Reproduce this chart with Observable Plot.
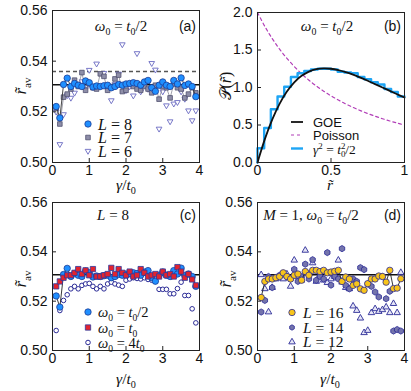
<!DOCTYPE html>
<html><head><meta charset="utf-8">
<script src="https://cdn.jsdelivr.net/npm/d3@7"></script>
<script src="https://cdn.jsdelivr.net/npm/@observablehq/plot@0.6"></script>
<style>
body{margin:0;background:#fff}
#wrap{position:relative;width:411px;height:391px;overflow:hidden;background:#fff}
#wrap svg{position:absolute;overflow:visible}
</style></head><body><div id="wrap"></div>
<script>
// ---------- data ----------
const gamma = [0.1,0.2,0.3,0.4,0.5,0.6,0.7,0.8,0.9,1.0,1.1,1.2,1.3,1.4,1.5,1.6,1.7,1.8,1.9,2.0,2.1,2.2,2.3,2.4,2.5,2.6,2.7,2.8,2.9,3.0,3.1,3.2,3.3,3.4,3.5,3.6,3.7,3.8,3.9];
const gammaTicks = [0,1,2,3,4];
const ravTicks = [0.50,0.52,0.54,0.56];
const goeRav = [0.5307];
const goeRavDashed = [0.5359];

// panel (a)
const aL8 = [0.5221,0.5176,0.5308,0.5333,0.5300,0.5312,0.5305,0.5300,0.5322,0.5315,0.5298,0.5302,0.5300,0.5303,0.5305,0.5295,0.5300,0.5308,0.5305,0.5310,0.5312,0.5315,0.5312,0.5305,0.5318,0.5324,0.5295,0.5281,0.5305,0.5318,0.5305,0.5300,0.5324,0.5310,0.5334,0.5304,0.5310,0.5300,0.5260];
const aL7 = [0.5215,0.5152,0.5258,0.5270,0.5290,0.5325,0.5300,0.5355,0.5285,0.5310,0.5295,0.5290,0.5350,0.5340,0.5285,0.5300,0.5330,0.5345,0.5280,0.5285,0.5310,0.5300,0.5290,0.5285,0.5300,0.5290,0.5275,0.5305,0.5250,0.5300,0.5295,0.5255,0.5310,0.5295,0.5290,0.5255,0.5270,0.5295,0.5275];
const aL6 = [0.5200,0.5072,0.5190,0.5265,0.5255,0.5275,0.5310,0.5320,0.5290,0.5365,0.5300,0.5390,0.5300,0.5353,0.5290,0.5245,0.5310,0.5350,0.5466,0.5285,0.5300,0.5264,0.5431,0.5280,0.5305,0.5290,0.5392,0.5366,0.5133,0.5280,0.5225,0.5162,0.5232,0.5238,0.5280,0.5251,0.5205,0.5166,0.5205];

// panel (b)
const rGrid = [0,0.05,0.1,0.15,0.2,0.25,0.3,0.35,0.4,0.45,0.5,0.55,0.6,0.65,0.7,0.75,0.8,0.85,0.9,0.95,1];
const goeP = [0,0.312,0.572,0.782,0.946,1.069,1.156,1.212,1.244,1.255,1.250,1.232,1.205,1.171,1.132,1.090,1.045,1.000,0.955,0.910,0.866];
const poissonP = [2.000,1.814,1.653,1.512,1.389,1.280,1.183,1.097,1.020,0.951,0.889,0.833,0.781,0.735,0.692,0.653,0.617,0.584,0.554,0.526,0.500];
const histEdges = [0,0.0455,0.0909,0.1364,0.1818,0.2273,0.2727,0.3182,0.3636,0.4091,0.4545,0.5,0.5455,0.5909,0.6364,0.6818,0.7273,0.7727,0.8182,0.8636,0.9091,0.9545,1];
const histVals = [0.19,0.46,0.71,0.88,1.01,1.14,1.19,1.22,1.24,1.25,1.25,1.24,1.21,1.20,1.19,1.14,1.11,1.07,1.04,0.98,0.94,0.88];
const rTicks = [0,0.5,1];
const pTicks = [0,0.5,1,1.5,2];

// panel (c)
const cHalf = aL8;
const cOne = [0.5260,0.5280,0.5295,0.5305,0.5305,0.5315,0.5330,0.5310,0.5325,0.5305,0.5330,0.5300,0.5300,0.5305,0.5310,0.5335,0.5310,0.5330,0.5315,0.5305,0.5320,0.5300,0.5305,0.5330,0.5315,0.5300,0.5305,0.5310,0.5300,0.5320,0.5305,0.5310,0.5300,0.5338,0.5320,0.5295,0.5310,0.5288,0.5264];
const cFour = [0.5081,0.5162,0.5203,0.5226,0.5250,0.5260,0.5250,0.5264,0.5270,0.5272,0.5260,0.5250,0.5260,0.5250,0.5270,0.5277,0.5270,0.5265,0.5260,0.5285,0.5290,0.5295,0.5292,0.5290,0.5295,0.5288,0.5285,0.5280,0.5248,0.5248,0.5248,0.5230,0.5230,0.5251,0.5277,0.5223,0.5223,0.5169,0.5112];

// panel (d)
const dL16 = [0.5215,0.5280,0.5290,0.5290,0.5295,0.5300,0.5315,0.5300,0.5290,0.5305,0.5310,0.5285,0.5320,0.5305,0.5325,0.5325,0.5320,0.5325,0.5315,0.5318,0.5321,0.5325,0.5280,0.5298,0.5290,0.5264,0.5270,0.5250,0.5244,0.5271,0.5290,0.5290,0.5302,0.5300,0.5277,0.5325,0.5251,0.5253,0.5291];
const dL14 = [0.5156,0.5203,0.5300,0.5255,0.5295,0.5305,0.5310,0.5300,0.5290,0.5329,0.5280,0.5300,0.5350,0.5290,0.5368,0.5285,0.5300,0.5290,0.5397,0.5265,0.5300,0.5290,0.5413,0.5264,0.5250,0.5290,0.5280,0.5336,0.5328,0.5270,0.5260,0.5237,0.5217,0.5300,0.5210,0.5240,0.5079,0.5085,0.5079];
const dL12 = [0.5307,0.5250,0.5156,0.5255,0.5290,0.5300,0.5290,0.5310,0.5260,0.5366,0.5300,0.5285,0.5406,0.5310,0.5355,0.5280,0.5305,0.5285,0.5275,0.5290,0.5300,0.5366,0.5277,0.5255,0.5250,0.5180,0.5162,0.5131,0.5072,0.5081,0.5153,0.5169,0.5158,0.5165,0.5176,0.5153,0.5190,0.5153,0.5316];

// ---------- helpers ----------
const SANS = "'Liberation Sans', Arial, Helvetica, sans-serif";
const SERIF = "'Liberation Serif', 'Times New Roman', serif";
const tbl = (xs, ys) => xs.map((x, i) => ({x, y: ys[i]}));
const wrap = document.getElementById("wrap");

function panel({left, top, w, h, ml, mr, mt, mb, xDomain, yDomain, xTicks, yTicks, xFmt, yFmt, marks}) {
  const fw = w - ml - mr, fh = h - mt - mb;
  const svg = Plot.plot({
    width: w, height: h, marginLeft: ml, marginRight: mr, marginTop: mt, marginBottom: mb,
    x: {domain: xDomain}, y: {domain: yDomain},
    style: {fontFamily: SANS, fontSize: "14px", color: "#111", background: "transparent"},
    marks: [
      ...marks,
      Plot.frame({stroke: "#222", strokeWidth: 1}),
      Plot.tickX(xTicks, {x: d => d, insetTop: fh - 4, stroke: "#222"}),
      Plot.tickY(yTicks, {y: d => d, insetRight: fw - 4, stroke: "#222"}),
      Plot.axisX(xTicks, {tickSize: 0, tickPadding: 3, tickFormat: xFmt, label: null, fontSize: 14}),
      Plot.axisY(yTicks, {tickSize: 0, tickPadding: 5, tickFormat: yFmt, label: null, fontSize: 14})
    ]
  });
  svg.style.left = left + "px";
  svg.style.top = top + "px";
  wrap.append(svg);
  return svg;
}

function rich(svg, x, y, parts, o = {}) {
  const size = o.size || 15;
  const supK = o.supK || 0.4;
  const t = d3.select(svg).append("text")
    .attr("x", x).attr("y", y)
    .attr("font-family", o.family || SERIF)
    .attr("font-size", size)
    .attr("text-anchor", o.anchor || "start")
    .attr("fill", "#111")
    .style("white-space", "pre");
  if (o.rotate) t.attr("transform", `rotate(${o.rotate} ${x} ${y})`);
  let shift = 0;
  for (const p of parts) {
    const [s, st = "", dx = 0] = p;
    const ts = t.append("tspan").text(s);
    if (st.includes("i")) ts.attr("font-style", "italic");
    const target = st.includes("_") ? size * 0.28 : st.includes("^") ? -size * supK : 0;
    if (target !== shift) { ts.attr("dy", target - shift); shift = target; }
    if (target !== 0) ts.attr("font-size", size * 0.66);
    if (dx) ts.attr("dx", dx);
  }
  return t;
}

function marker(svg, x, y, kind, r, fill, stroke, sw, rot = 0) {
  let d;
  if (kind === "hexagon") {
    const pts = [0,1,2,3,4,5].map(k => [r * Math.cos(Math.PI/6 + k*Math.PI/3), r * Math.sin(Math.PI/6 + k*Math.PI/3)]);
    d = "M" + pts.map(p => p.join(",")).join("L") + "Z";
  } else {
    const sym = {circle: d3.symbolCircle, square: d3.symbolSquare, triangle: d3.symbolTriangle}[kind];
    d = d3.symbol(sym, Math.PI * r * r)();
  }
  d3.select(svg).append("path").attr("d", d)
    .attr("transform", `translate(${x},${y}) rotate(${rot})`)
    .attr("fill", fill).attr("stroke", stroke).attr("stroke-width", sw);
}

function legLine(svg, x1, x2, y, stroke, sw, dash) {
  const l = d3.select(svg).append("line").attr("x1", x1).attr("x2", x2).attr("y1", y).attr("y2", y)
    .attr("stroke", stroke).attr("stroke-width", sw);
  if (dash) l.attr("stroke-dasharray", dash);
}

const fmtG = d => String(d);
const fmtR = d3.format(".2f");
const omegaHalf = [["ω","i"],["0","_"],[" = "],["t","i"],["0","_"],["/2"]];
const yLabRav = [["r\u0303","i"],["av","_"]];
const xLabGamma = [["γ","i"],["/"],["t","i"],["0","_"]];

// colours
const C_BLUE = "#1f8fff", C_BLUE_E = "#1d3c96";
const C_GREY = "#8e8ea8", C_GREY_E = "#505070";
const C_TRI = "#6a6ac2";
const C_RED = "#e3242e", C_RED_E = "#2b3aa0";
const C_NAVY = "#2a2a96";
const C_YEL = "#f7c41a";
const C_HEX = "#7474ac";
const C_HIST = "#1ea5f5";
const C_POI = "#b23fb8";

// ---------- panel (a) ----------
const A = panel({
  left: 0, top: 0, w: 205, h: 195, ml: 52, mr: 6, mt: 10, mb: 33,
  xDomain: [0, 4], yDomain: [0.50, 0.56], xTicks: gammaTicks, yTicks: ravTicks, xFmt: fmtG, yFmt: fmtR,
  marks: [
    Plot.ruleY(goeRav, {y: d => d, stroke: "#111", strokeWidth: 1.6}),
    Plot.ruleY(goeRavDashed, {y: d => d, stroke: "#555", strokeWidth: 1.4, strokeDasharray: "4,3"}),
    Plot.dot(tbl(gamma, aL6), {x: "x", y: "y", symbol: "triangle", rotate: 180, r: 2.1, fill: "white", stroke: C_TRI, strokeWidth: 0.9}),
    Plot.line(tbl(gamma, aL7), {x: "x", y: "y", stroke: "#8a8a98", strokeWidth: 0.8}),
    Plot.dot(tbl(gamma, aL7), {x: "x", y: "y", symbol: "square", r: 2.6, fill: C_GREY, stroke: C_GREY_E, strokeWidth: 0.8}),
    Plot.line(tbl(gamma, aL8), {x: "x", y: "y", stroke: "#333", strokeWidth: 0.9}),
    Plot.dot(tbl(gamma, aL8), {x: "x", y: "y", r: 3.2, fill: C_BLUE, stroke: C_BLUE_E, strokeWidth: 0.8})
  ]
});
rich(A, 121, 31, omegaHalf, {anchor: "middle"});
rich(A, 196, 31, [["(a)"]], {family: SANS, size: 14, anchor: "end"});
rich(A, 26, 86, yLabRav, {size: 17, anchor: "middle", rotate: -90});
rich(A, 126, 190, xLabGamma, {size: 15.5, anchor: "middle"});
marker(A, 88, 124, "circle", 3.2, C_BLUE, C_BLUE_E, 0.8);
marker(A, 88, 137.5, "square", 2.6, C_GREY, C_GREY_E, 0.8);
marker(A, 88, 151, "triangle", 2.1, "white", C_TRI, 0.9, 180);
rich(A, 98, 129.5, [["L","i"],[" = 8"]], {size: 16});
rich(A, 98, 143, [["L","i"],[" = 7"]], {size: 16});
rich(A, 98, 156.5, [["L","i"],[" = 6"]], {size: 16});

// ---------- panel (b) ----------
const histTable = [{x: 0, y: 0}, ...tbl(histEdges.slice(0, -1), histVals), {x: histEdges[histEdges.length - 1], y: histVals[histVals.length - 1]}];
const B = panel({
  left: 205, top: 0, w: 206, h: 195, ml: 52, mr: 7, mt: 12, mb: 33,
  xDomain: [0, 1], yDomain: [0, 2], xTicks: rTicks, yTicks: pTicks, xFmt: fmtG, yFmt: d3.format(".1f"),
  marks: [
    Plot.line(tbl(rGrid, poissonP), {x: "x", y: "y", curve: "catmull-rom", stroke: C_POI, strokeWidth: 1.2, strokeDasharray: "3,3"}),
    Plot.line(histTable, {x: "x", y: "y", curve: "step-after", stroke: C_HIST, strokeWidth: 2.4}),
    Plot.line(tbl(rGrid, goeP), {x: "x", y: "y", curve: "catmull-rom", stroke: "#111", strokeWidth: 1.8})
  ]
});
rich(B, 122, 31, omegaHalf, {anchor: "middle"});
rich(B, 196, 31, [["(b)"]], {family: SANS, size: 14, anchor: "end"});
rich(B, 26, 86, [["𝒫("], ["r\u0303","i"], [")"]], {size: 16, anchor: "middle", rotate: -90});
rich(B, 125, 190, [["r\u0303","i"]], {size: 15.5, anchor: "middle"});
legLine(B, 86, 98, 122, "#111", 1.8);
legLine(B, 86, 98, 135, C_POI, 1.2, "3,3");
legLine(B, 86, 98, 148.5, C_HIST, 2.4);
rich(B, 108, 126.5, [["GOE"]], {family: SANS, size: 13});
rich(B, 108, 139.5, [["Poisson"]], {family: SANS, size: 13});
rich(B, 108, 153.5, [["γ","i"],["2","^"],[" = "],["t","i"],["2","^"],["0","_",-4.5],["/2"]], {size: 13.5, supK: 0.32});

// ---------- panel (c) ----------
const Cc = panel({
  left: 0, top: 195, w: 205, h: 196, ml: 52, mr: 6, mt: 7, mb: 41,
  xDomain: [0, 4], yDomain: [0.50, 0.56], xTicks: gammaTicks, yTicks: ravTicks, xFmt: fmtG, yFmt: fmtR,
  marks: [
    Plot.ruleY(goeRav, {y: d => d, stroke: "#111", strokeWidth: 1.6}),
    Plot.dot(tbl(gamma, cFour), {x: "x", y: "y", r: 2.3, fill: "white", stroke: C_NAVY, strokeWidth: 1}),
    Plot.line(tbl(gamma, cHalf), {x: "x", y: "y", stroke: "#222", strokeWidth: 0.9}),
    Plot.dot(tbl(gamma, cHalf), {x: "x", y: "y", r: 3.2, fill: C_BLUE, stroke: C_BLUE_E, strokeWidth: 0.8}),
    Plot.dot(tbl(gamma, cOne), {x: "x", y: "y", symbol: "square", r: 3.0, fill: C_RED, stroke: C_RED_E, strokeWidth: 0.8})
  ]
});
rich(Cc, 113, 25, [["L","i"],[" = 8"]], {anchor: "middle"});
rich(Cc, 196, 25, [["(c)"]], {family: SANS, size: 14, anchor: "end"});
rich(Cc, 26, 84, yLabRav, {size: 17, anchor: "middle", rotate: -90});
rich(Cc, 126, 189, xLabGamma, {size: 15.5, anchor: "middle"});
marker(Cc, 88, 117, "circle", 3.2, C_BLUE, C_BLUE_E, 0.8);
marker(Cc, 88, 132.5, "square", 3.0, C_RED, C_RED_E, 0.8);
marker(Cc, 88, 147.5, "circle", 2.3, "white", C_NAVY, 1);
rich(Cc, 98, 122, omegaHalf, {size: 14.5});
rich(Cc, 98, 137.5, [["ω","i"],["0","_"],[" = "],["t","i"],["0","_"]], {size: 14.5});
rich(Cc, 98, 152.5, [["ω","i"],["0","_"],[" = 4"],["t","i"],["0","_"]], {size: 14.5});

// ---------- panel (d) ----------
const D = panel({
  left: 205, top: 195, w: 206, h: 196, ml: 52, mr: 7, mt: 7, mb: 41,
  xDomain: [0, 4], yDomain: [0.50, 0.56], xTicks: gammaTicks, yTicks: ravTicks, xFmt: fmtG, yFmt: fmtR,
  marks: [
    Plot.ruleY(goeRav, {y: d => d, stroke: "#111", strokeWidth: 1.6}),
    Plot.dot(tbl(gamma, dL12), {x: "x", y: "y", symbol: "triangle", r: 2.4, fill: "#e6e6f6", stroke: C_NAVY, strokeWidth: 0.9}),
    Plot.dot(tbl(gamma, dL14), {x: "x", y: "y", symbol: "hexagon", r: 2.7, fill: C_HEX, stroke: C_NAVY, strokeWidth: 0.8}),
    Plot.line(tbl(gamma, dL16), {x: "x", y: "y", stroke: "#222", strokeWidth: 0.9}),
    Plot.dot(tbl(gamma, dL16), {x: "x", y: "y", r: 3.2, fill: C_YEL, stroke: C_NAVY, strokeWidth: 0.8})
  ]
});
rich(D, 106, 25, [["M","i"],[" = 1, "],["ω","i"],["0","_"],[" = "],["t","i"],["0","_"],["/2"]], {anchor: "middle"});
rich(D, 196, 25, [["(d)"]], {family: SANS, size: 14, anchor: "end"});
rich(D, 26, 84, yLabRav, {size: 17, anchor: "middle", rotate: -90});
rich(D, 125, 189, xLabGamma, {size: 15.5, anchor: "middle"});
marker(D, 87, 117.5, "circle", 3.2, C_YEL, C_NAVY, 0.8);
marker(D, 87, 132.5, "hexagon", 2.7, C_HEX, C_NAVY, 0.8);
marker(D, 87, 147, "triangle", 2.4, "#e6e6f6", C_NAVY, 0.9);
rich(D, 98, 122.5, [["L","i"],[" = 16"]], {size: 15.5});
rich(D, 98, 137.5, [["L","i"],[" = 14"]], {size: 15.5});
rich(D, 98, 152, [["L","i"],[" = 12"]], {size: 15.5});
</script></body></html>
